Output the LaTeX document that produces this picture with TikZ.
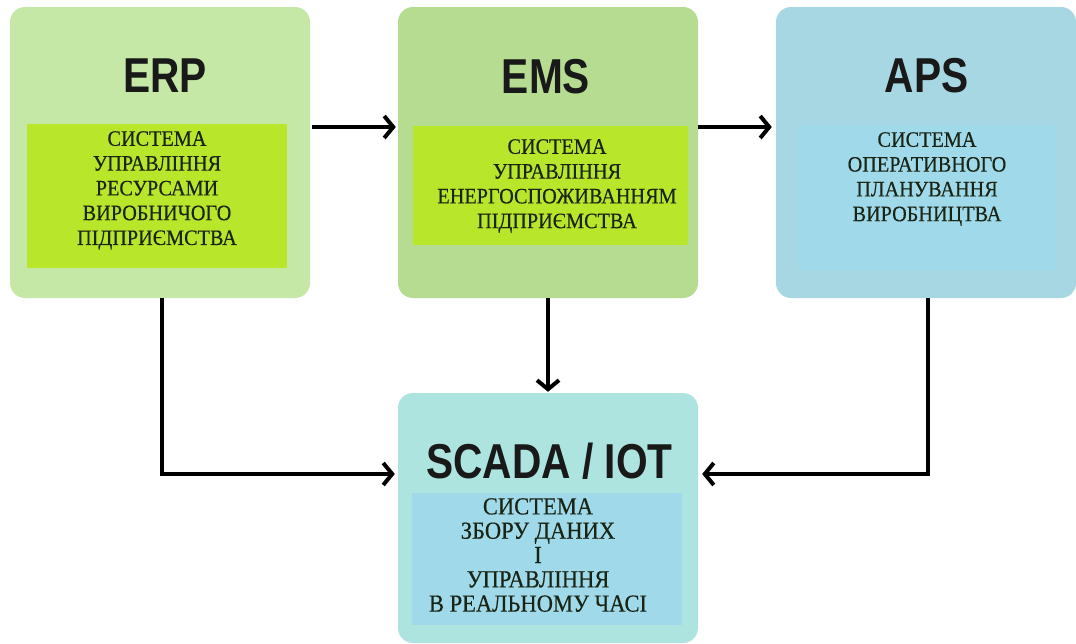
\documentclass[tikz,border=0pt]{standalone}
\usepackage{fontspec}
\setmainfont{Liberation Serif}
\newfontfamily\descfont[FakeStretch=0.92,FakeBold=0.35]{Liberation Serif}
\newfontfamily\headfont[FakeStretch=0.83]{Liberation Sans}
\usetikzlibrary{arrows.meta,positioning}

\definecolor{erpback}{HTML}{C6E8A7}
\definecolor{emsback}{HTML}{B6DC91}
\definecolor{apsback}{HTML}{A8D7E4}
\definecolor{scadaback}{HTML}{ADE4E0}
\definecolor{limepanel}{HTML}{B7E62A}
\definecolor{skypanel}{HTML}{A0DAEA}
\definecolor{inkdark}{HTML}{1A2414}

\begin{document}
\begin{tikzpicture}[x=1pt,y=-1pt,
  sysbox/.style={rounded corners=15pt, minimum width=300pt, inner sep=0pt},
  panel/.style={inner sep=0pt},
  headline/.style={font=\headfont\bfseries\fontsize{49}{49}\selectfont, text=black!90, inner sep=0pt, anchor=base},
  descr/.style={font=\descfont\fontsize{22}{24.8}\selectfont, align=center, text=inkdark, inner sep=0pt, anchor=north},
  link/.style={line width=4pt, -{Straight Barb[length=9pt,width=22pt]}}]
\useasboundingbox (0,0) rectangle (1076,643);
\fill[white] (0,0) rectangle (1076,643);

% system boxes
\node[sysbox, fill=erpback, minimum height=291pt] (erp) at (160,152.5) {};
\node[sysbox, fill=emsback, minimum height=291pt] (ems) at (548,152.5) {};
\node[sysbox, fill=apsback, minimum height=291pt] (aps) at (926,152.5) {};
\node[sysbox, fill=scadaback, minimum height=250pt] (scada) at (548,518) {};

% inner panels
\node[panel, fill=limepanel, minimum width=260pt, minimum height=144pt] (erpPanel) at (157,196) {};
\node[panel, fill=limepanel, minimum width=275pt, minimum height=119pt] (emsPanel) at (550.5,185.5) {};
\node[panel, fill=skypanel, minimum width=259pt, minimum height=145pt] (apsPanel) at (927.5,197.5) {};
\node[panel, fill=skypanel, minimum width=270pt, minimum height=132pt] (scadaPanel) at (547,559) {};

% titles
\node[headline] (erpHead) at (165,92) {ERP};
\node[headline] (emsHead) at (546,93) {EMS};
\node[headline] (apsHead) at (926.5,92) {APS};
\node[headline] (scadaHead) at (549.5,478) {SCADA / IOT};

% descriptions
\node[descr] (erpText) at (157,131) {СИСТЕМА\\УПРАВЛІННЯ\\РЕСУРСАМИ\\ВИРОБНИЧОГО\\ПІДПРИЄМСТВА};
\node[descr] (emsText) at (557,139) {СИСТЕМА\\УПРАВЛІННЯ\\ЕНЕРГОСПОЖИВАННЯМ\\ПІДПРИЄМСТВА};
\node[descr] (apsText) at (927,132) {СИСТЕМА\\ОПЕРАТИВНОГО\\ПЛАНУВАННЯ\\ВИРОБНИЦТВА};
\node[descr, font=\descfont\fontsize{24.5}{24.3}\selectfont] (scadaText) at (538,498) {СИСТЕМА\\ЗБОРУ ДАНИХ\\І\\УПРАВЛІННЯ\\В РЕАЛЬНОМУ ЧАСІ};

% connectors
\draw[link] ([yshift=25.5pt,xshift=2pt]erp.east) -- ([yshift=25.5pt,xshift=-2pt]ems.west);
\draw[link] ([yshift=25.5pt]ems.east) -- ([yshift=25.5pt,xshift=-4pt]aps.west);
\draw[link] (ems.south) -- ([yshift=1pt]scada.north);
\draw[link] ([xshift=2pt]erp.south) |- ([yshift=44pt,xshift=-3pt]scada.west);
\draw[link] ([xshift=2pt]aps.south) |- ([yshift=44pt,xshift=4pt]scada.east);
\end{tikzpicture}
\end{document}
